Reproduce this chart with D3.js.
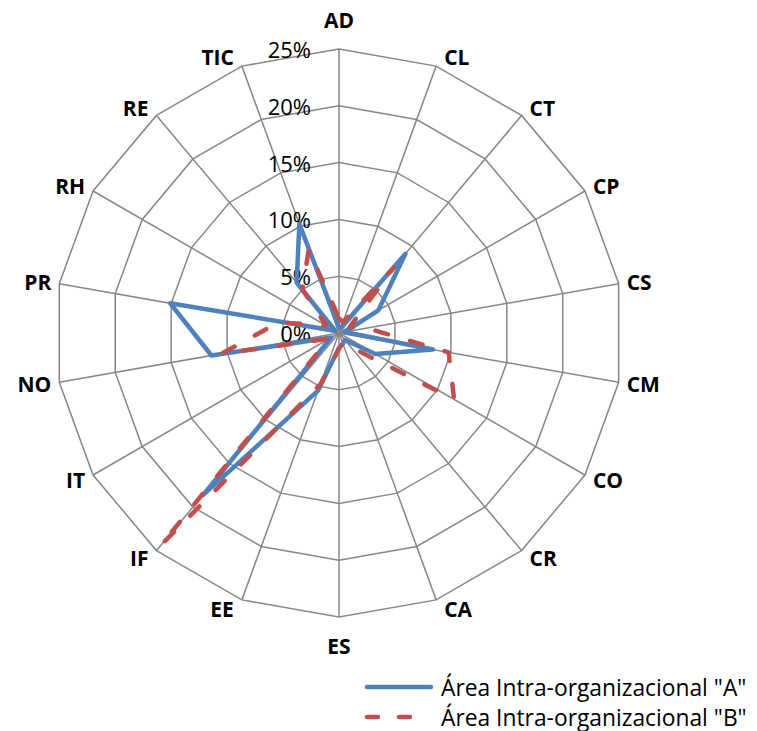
<!DOCTYPE html>
<html>
<head>
<meta charset="utf-8">
<script src="https://cdn.jsdelivr.net/npm/d3@7"></script>
<style>
  html, body { margin: 0; padding: 0; background: #ffffff; }
  svg { display: block; }
</style>
</head>
<body>
<svg id="chart" width="757" height="731"></svg>
<script>
// Axes of the radar, clockwise from the top
const categories = ["AD","CL","CT","CP","CS","CM","CO","CR","CA","ES","EE","IF","IT","NO","PR","RH","RE","TIC"];

// Share per axis (percent)
const seriesA = [0.5, 0.5, 9.1, 4.0, 0.5, 8.4, 3.7, 0.8, 1.0, 1.3, 5.4, 18.6, 0.8, 11.4, 15.1, 0.4, 5.8, 10.2];
const seriesB = [1.3, 1.0, 7.5, 1.1, 2.5, 9.8, 11.7, 1.6, 0.9, 1.4, 4.8, 24.4, 1.0, 10.5, 5.4, 1.3, 5.0, 7.8];

const seriesNames = ['Área Intra-organizacional "A"', 'Área Intra-organizacional "B"'];
const tickValues = [0, 5, 10, 15, 20, 25];
const tickLabels = ["0%", "5%", "10%", "15%", "20%", "25%"];

const svg = d3.select("#chart");
const cx = 339, cy = 333, R = 284;

const r = d3.scaleLinear().domain([0, 25]).range([0, R]);
const angle = d3.scaleLinear().domain([0, categories.length]).range([0, 2 * Math.PI]);

const g = svg.append("g").attr("transform", `translate(${cx},${cy})`);

const gridColor = "#878787";

// concentric polygon rings
const ringLine = d3.lineRadial()
  .angle((d, i) => angle(i))
  .radius(d => r(d))
  .curve(d3.curveLinearClosed);

tickValues.filter(t => t > 0).forEach(t => {
  g.append("path")
    .attr("d", ringLine(categories.map(() => t)))
    .attr("fill", "none")
    .attr("stroke", gridColor)
    .attr("stroke-width", 1.5);
});

// spokes
categories.forEach((c, i) => {
  const a = angle(i);
  g.append("line")
    .attr("x1", 0).attr("y1", 0)
    .attr("x2", Math.sin(a) * r(25))
    .attr("y2", -Math.cos(a) * r(25))
    .attr("stroke", gridColor)
    .attr("stroke-width", 1.5);
});

// value labels along the first axis
g.selectAll("text.tick")
  .data(tickValues)
  .enter().append("text")
  .attr("class", "tick")
  .attr("x", -28)
  .attr("y", d => -r(d))
  .attr("text-anchor", "end")
  .attr("dominant-baseline", "central")
  .attr("font-family", "'Open Sans', sans-serif")
  .attr("font-size", 22)
  .attr("fill", "#000")
  .text((d, i) => tickLabels[i]);

// category labels just outside each outer vertex
categories.forEach((c, i) => {
  const a = angle(i);
  const s = Math.sin(a), co = Math.cos(a);
  const t = g.append("text")
    .attr("font-family", "'Open Sans', sans-serif")
    .attr("font-weight", "bold")
    .attr("font-size", 21)
    .attr("fill", "#000")
    .attr("text-anchor", "middle")
    .attr("dominant-baseline", "central")
    .text(c);
  const w = t.node().getComputedTextLength();
  const vx = s * R, vy = -co * R;
  let x, y;
  if (Math.abs(s) < 1e-6) {
    x = vx;
    y = vy - Math.sign(co) * 29;
  } else {
    x = vx + Math.sign(s) * (w / 2 + 8);
    y = vy - co * 10;
  }
  t.attr("x", x).attr("y", y);
});

const colors = ["#4F81BD", "#C0504D"];
const dashes = [null, "13,23"];

const seriesLine = d3.lineRadial()
  .angle((d, i) => angle(i))
  .radius(d => r(d))
  .curve(d3.curveLinearClosed);

[seriesA, seriesB].forEach((vals, k) => {
  g.append("path")
    .attr("d", seriesLine(vals))
    .attr("fill", "none")
    .attr("stroke", colors[k])
    .attr("stroke-width", 4.5)
    .attr("stroke-linejoin", "round")
    .attr("stroke-linecap", "round")
    .attr("stroke-dasharray", dashes[k]);
});

// legend
const legend = svg.append("g");
seriesNames.forEach((name, k) => {
  const y = 687 + k * 30;
  legend.append("line")
    .attr("x1", 367).attr("x2", 431)
    .attr("y1", y).attr("y2", y)
    .attr("stroke", colors[k])
    .attr("stroke-width", 4.5)
    .attr("stroke-linecap", "round")
    .attr("stroke-dasharray", k === 1 ? "11,21" : null);
  legend.append("text")
    .attr("x", 441)
    .attr("y", y)
    .attr("dominant-baseline", "central")
    .attr("font-family", "'Open Sans', sans-serif")
    .attr("font-size", 22.8)
    .attr("fill", "#000")
    .text(name);
});
</script>
</body>
</html>
